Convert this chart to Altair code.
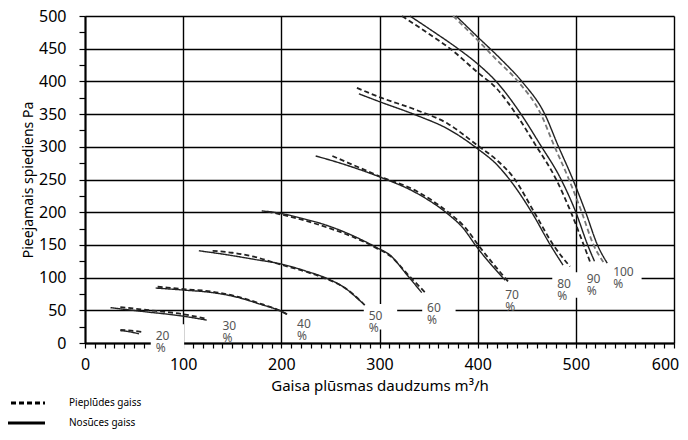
import altair as alt
import pandas as pd

# ---------------- data ----------------
# supply air = "Pieplūdes gaiss" (dashed), exhaust air = "Nosūces gaiss" (solid)
sup20 = [(36, 20), (47, 19), (58, 17)]
exh20 = [(36, 19), (46, 17), (55, 14)]
sup30 = [(36, 55), (60, 51), (100, 44), (124, 37)]
exh30 = [(26, 54), (60, 48), (100, 41), (124, 35)]
sup40 = [(74, 86), (100, 82.5), (130, 78.5), (155, 71), (177, 61), (199, 49), (207, 43)]
exh40 = [(72, 84), (100, 81), (130, 77), (155, 70), (177, 60), (199, 49), (206, 44)]
sup50 = [(130, 141), (150, 138), (172, 132), (199, 120), (225, 109), (246, 98), (265, 84), (285, 58)]
exh50 = [(116, 141), (140, 136), (172, 128), (199, 121), (225, 110), (246, 99), (263, 86), (282, 62)]
sup60 = [(186, 201), (220, 189), (246, 177), (270, 164), (297, 145), (311, 133), (330, 103), (348, 75)]
exh60 = [(180, 202), (200, 198), (220, 191), (246, 180), (270, 166), (297, 146), (311, 134), (327, 106), (343, 77)]
sup70 = [(252, 286), (275, 271), (300, 255), (338, 232), (369, 201), (387, 177), (402, 147), (431, 94)]
exh70 = [(235, 286), (260, 275), (300, 254), (338, 229), (369, 198), (385, 176), (399, 147), (428, 96)]
sup80 = [(277, 390), (300, 376), (338, 356), (370, 335), (399, 303), (420, 279), (436, 254), (458, 199), (477, 150), (494, 117)]
exh80 = [(279, 381), (300, 369), (338, 348), (370, 327), (399, 298), (420, 272), (433, 249), (455, 200), (474, 150), (487, 119)]
sup90 = [(323, 500), (348, 475), (372, 450), (399, 415), (420, 388), (440, 348), (458, 305), (480, 250), (495, 200), (508, 150), (515, 122)]
exh90 = [(331, 500), (355, 476), (380, 450), (399, 428), (420, 398), (445, 348), (463, 305), (485, 250), (500, 200), (512, 150), (519, 125)]
sup100 = [(375, 500), (398, 466), (420, 432), (441, 400), (465, 348), (477, 305), (493, 250), (506, 200), (518, 150), (528, 124)]
exh100 = [(378, 500), (400, 468), (425, 432), (445, 400), (469, 348), (481, 305), (497, 250), (510, 200), (522, 150), (532, 122)]

pcts = ["20", "30", "40", "50", "60", "70", "80", "90", "100"]
supply = [sup20, sup30, sup40, sup50, sup60, sup70, sup80, sup90, sup100]
exhaust = [exh20, exh30, exh40, exh50, exh60, exh70, exh80, exh90, exh100]

# curve labels: left edge (x) and first-line centre (y) in data units
label_x = [72, 140, 216, 289, 348.5, 428, 481, 511, 538]
label_y = [10.7, 25.4, 29, 41.6, 54.2, 73.3, 90, 97.8, 108.5]
boxed = ["20", "50", "60", "80", "90", "100"]

x_ticks = list(range(0, 601, 10))
y_ticks = list(range(0, 501, 25))

SUP = "Pieplūdes gaiss"
EXH = "Nosūces gaiss"

rows = []
for p, s, e in zip(pcts, supply, exhaust):
    for kind, pts in ((SUP, s), (EXH, e)):
        for i, (x, y) in enumerate(pts):
            rows.append({"pct": p, "kind": kind, "curve": p + kind, "i": i, "x": x, "y": y})
curves = pd.DataFrame(rows)

labels = pd.DataFrame({"pct": pcts, "lx": label_x, "ly": label_y})
labels["text"] = labels["pct"] + "\n%"
boxes = labels[labels["pct"].isin(boxed)].copy()
boxes["x0"] = boxes["lx"] - 5
boxes["x1"] = boxes["lx"] + 29
boxes["y0"] = boxes["ly"] + 18
boxes["y1"] = boxes["ly"] - 21

FONT = "Noto Sans"

xscale = alt.Scale(domain=[0, 600], nice=False, zero=False)
yscale = alt.Scale(domain=[0, 500], nice=False, zero=False)

xaxis = alt.Axis(
    values=x_ticks,
    tickCount=200,
    title="Gaisa plūsmas daudzums m³/h",
    labelExpr="datum.value % 100 === 0 ? datum.label : ''",
    labelOverlap=False,
    labelFlush=False,
    labelOffset={"condition": {"test": "datum.value === 600", "value": -9}, "value": 0},
    labelFontSize=16,
    labelFont=FONT,
    labelColor="black",
    labelPadding=8,
    tickSize=5,
    tickColor="black",
    tickWidth=1.2,
    grid=True,
    gridOpacity={"condition": {"test": "datum.value % 100 === 0", "value": 1}, "value": 0},
    gridColor="black",
    gridWidth=1.4,
    domainColor="black",
    domainWidth=2,
    titleFont=FONT,
    titleFontSize=15,
    titleFontWeight="normal",
    titleColor="black",
    titlePadding=6,
)
yaxis = alt.Axis(
    values=y_ticks,
    tickCount=200,
    title="Pieejamais spiediens Pa",
    labelExpr="datum.value % 50 === 0 ? datum.label : ''",
    labelOverlap=False,
    labelFontSize=16,
    labelFont=FONT,
    labelColor="black",
    labelPadding=13,
    tickSize=6,
    tickColor="black",
    tickWidth=1.2,
    grid=True,
    gridOpacity={"condition": {"test": "datum.value % 50 === 0", "value": 1}, "value": 0},
    gridColor="black",
    gridWidth=1.4,
    domainColor="black",
    domainWidth=2,
    titleFont=FONT,
    titleFontSize=14,
    titleFontWeight="normal",
    titleColor="black",
    titlePadding=3,
)

lines = alt.Chart(curves).mark_line(interpolate="monotone").encode(
    x=alt.X("x:Q", scale=xscale, axis=xaxis),
    y=alt.Y("y:Q", scale=yscale, axis=yaxis),
    detail="curve:N",
    order="i:Q",
    strokeDash=alt.StrokeDash(
        "kind:N",
        scale=alt.Scale(domain=[SUP, EXH], range=[[5, 3], [1, 0]]),
        legend=alt.Legend(
            title=None,
            orient="none",
            legendX=-73,
            legendY=375,
            symbolType="M-2,0L2,0",
            symbolSize=441,
            symbolStrokeWidth=3,
            symbolStrokeColor="black",
            labelFont=FONT,
            labelFontSize=10,
            labelColor="black",
            labelOffset=33,
            rowPadding=2,
            padding=0,
        ),
    ),
    color=alt.condition(
        "datum.pct == '100' && datum.kind == '" + SUP + "'",
        alt.value("#777777"),
        alt.value("#222222"),
    ),
    strokeWidth=alt.condition(
        "datum.kind == '" + SUP + "'",
        alt.value(1.8),
        alt.value(1.4),
    ),
)

masks = alt.Chart(boxes).mark_rect(color="white").encode(
    x="x0:Q", x2="x1:Q", y="y0:Q", y2="y1:Q"
)

texts = alt.Chart(labels).mark_text(
    align="left", baseline="middle", lineBreak="\n", fontSize=12,
    font=FONT, color="#555555", lineHeight=12,
).encode(x="lx:Q", y="ly:Q", text="text:N")

chart = alt.layer(masks, lines, texts).properties(
    width=589, height=327,
    padding={"left": 4, "top": 0, "right": 0, "bottom": 0},
    background="white",
).configure_view(stroke=None)

chart.save("out.html", embed_options={"renderer": "svg", "actions": False})
